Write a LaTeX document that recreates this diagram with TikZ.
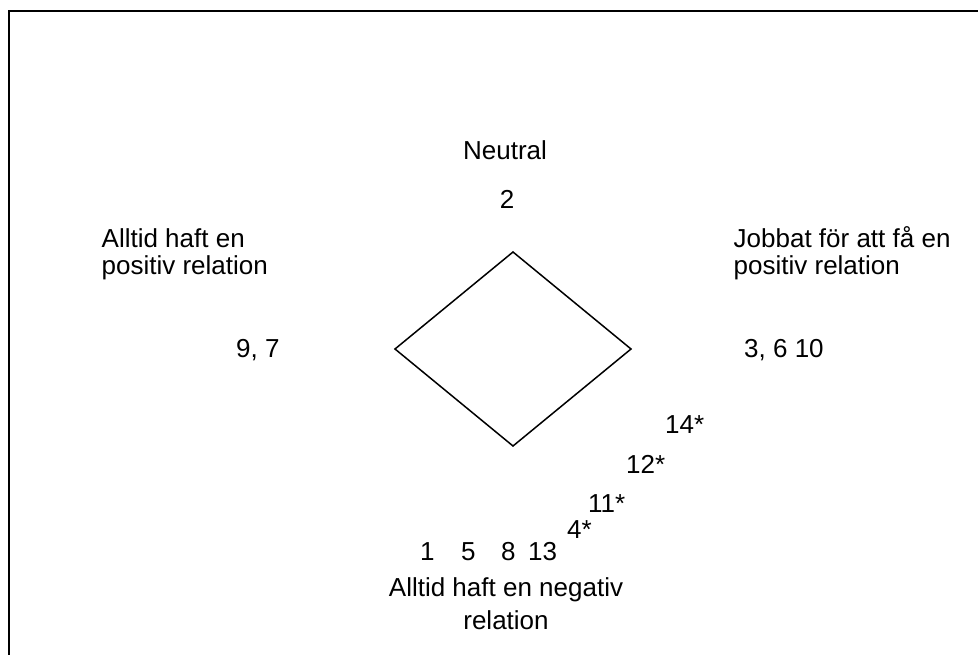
\documentclass[tikz,border=0pt]{standalone}
\usepackage{fontspec}
\setmainfont{Liberation Sans}
\begin{document}
\begin{tikzpicture}[x=1pt,y=-1pt,
    lbl/.style={inner sep=0pt,font=\fontsize{26}{27}\selectfont},
    num/.style={lbl,anchor=base west}]
  \useasboundingbox (0,0) rectangle (978,655);
  % frame, only left and top edge are visible
  \draw[line width=1.5pt](9,655)--(9,11)--(978,11);
  % diamond
  \coordinate (top) at (513,252);
  \coordinate (left) at (395,349);
  \coordinate (right) at (631,349);
  \coordinate (bottom) at (513,446);
  \draw[line width=1.5pt] (top)--(right)--(bottom)--(left)--cycle;
  % labels (base of a two-line node is its last line)
  \node[lbl,anchor=base] at (505,160) (neutral) {Neutral};
  \node[lbl,anchor=base] at (507,209) (n2) {2};
  \node[lbl,anchor=base west,align=left] at (101.5,275) (pos) {Alltid haft en\\positiv relation};
  \node[lbl,anchor=base west,align=left] at (733.5,275) (jobb) {Jobbat för att få en\\positiv relation};
  \node[lbl,anchor=base,align=center,font=\fontsize{26}{33}\selectfont] at (506,629) (neg) {Alltid haft en negativ\\relation};
  \node[num] at (236,357) (n97) {9, 7};
  \node[num] at (744,357) (n3610) {3, 6 10};
  \node[num] at (665,433) (n14) {14*};
  \node[num] at (626,473) (n12) {12*};
  \node[num] at (588,512) (n11) {11*};
  \node[num] at (567,538) (n4) {4*};
  \node[num] at (420,560) (n1) {1};
  \node[num] at (461,560) (n5) {5};
  \node[num] at (501,560) (n8) {8};
  \node[num] at (528,560) (n13) {13};
\end{tikzpicture}
\end{document}
